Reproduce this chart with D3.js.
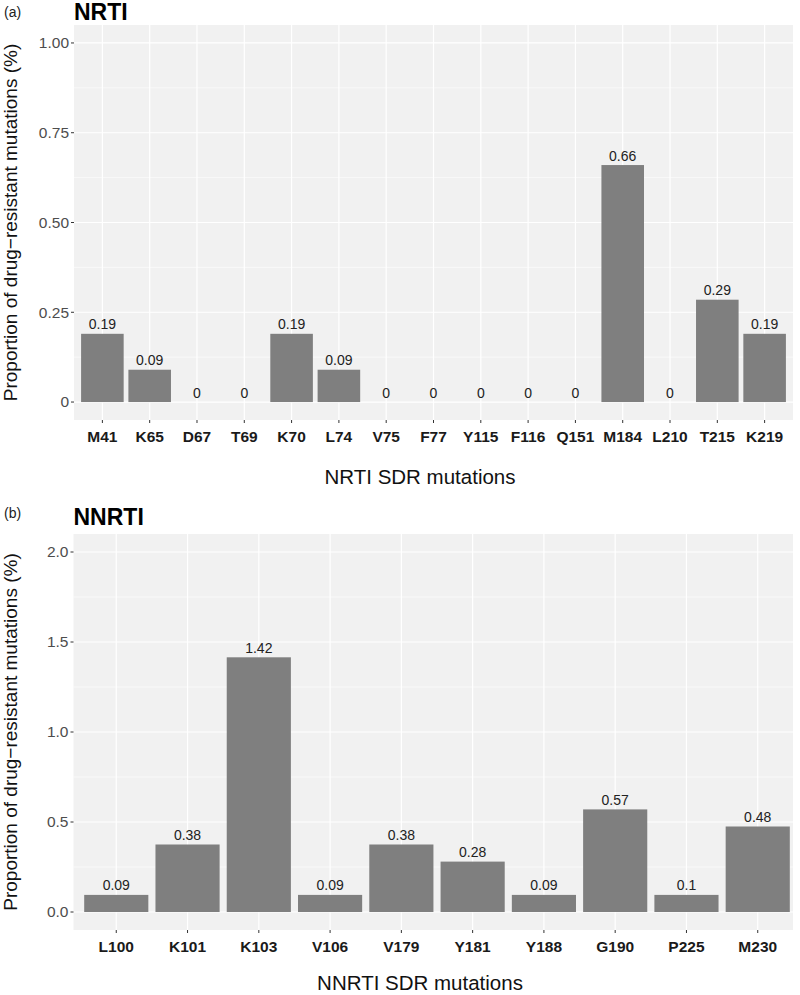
<!DOCTYPE html>
<html><head><meta charset="utf-8">
<script src="https://cdn.jsdelivr.net/npm/d3@7"></script>
<style>body{margin:0;background:#fff;} svg{display:block;font-family:"Liberation Sans",Arial,Helvetica,sans-serif;}</style>
</head><body>
<svg id="chart" width="800" height="995"></svg>
<script>
const nrtiCategories = ["M41","K65","D67","T69","K70","L74","V75","F77","Y115","F116","Q151","M184","L210","T215","K219"];
const nrtiValues = [0.19,0.09,0,0,0.19,0.09,0,0,0,0,0,0.66,0,0.285,0.19];
const nrtiLabels = ["0.19","0.09","0","0","0.19","0.09","0","0","0","0","0","0.66","0","0.29","0.19"];
const nrtiYTicks = [0,0.25,0.5,0.75,1.0];
const nrtiYTickLabels = ["0","0.25","0.50","0.75","1.00"];
const nrtiYMinor = [0.125,0.375,0.625,0.875];

const nnrtiCategories = ["L100","K101","K103","V106","V179","Y181","Y188","G190","P225","M230"];
const nnrtiValues = [0.095,0.375,1.415,0.095,0.375,0.28,0.095,0.57,0.095,0.475];
const nnrtiLabels = ["0.09","0.38","1.42","0.09","0.38","0.28","0.09","0.57","0.1","0.48"];
const nnrtiYTicks = [0,0.5,1.0,1.5,2.0];
const nnrtiYTickLabels = ["0.0","0.5","1.0","1.5","2.0"];
const nnrtiYMinor = [0.25,0.75,1.25,1.75];

const svg = d3.select("#chart");
const yTitle = "Proportion of drug\u2212resistant mutations (%)";

function panel(o){
  const g = svg.append("g");
  const x = d3.scaleBand().domain(o.cats).range([o.left, o.xRight]).paddingInner(0.1).paddingOuter(0.15);
  const y = d3.scaleLinear().domain(o.ydom).range([o.bottom, o.top]);
  const cx = d => x(d) + x.bandwidth()/2;
  g.append("rect").attr("x", o.left).attr("y", o.top).attr("width", o.right - o.left).attr("height", o.bottom - o.top).attr("fill", "#f1f1f1");
  g.selectAll(".ymin").data(o.yMinor).join("line")
    .attr("x1", o.left).attr("x2", o.right).attr("y1", d=>y(d)).attr("y2", d=>y(d))
    .attr("stroke", "#fff").attr("stroke-width", 0.6);
  g.selectAll(".ymaj").data(o.yTicks).join("line")
    .attr("x1", o.left).attr("x2", o.right).attr("y1", d=>y(d)).attr("y2", d=>y(d))
    .attr("stroke", "#fff").attr("stroke-width", 1.2);
  g.selectAll(".xmaj").data(o.cats).join("line")
    .attr("x1", cx).attr("x2", cx).attr("y1", o.top).attr("y2", o.bottom)
    .attr("stroke", "#fff").attr("stroke-width", 1.2);
  g.selectAll(".bar").data(o.cats).join("rect")
    .attr("x", d=>x(d)).attr("width", x.bandwidth())
    .attr("y", (d,i)=>y(o.vals[i])).attr("height", (d,i)=>y(0)-y(o.vals[i]))
    .attr("fill", "#7f7f7f");
  g.selectAll(".vl").data(o.cats).join("text")
    .attr("x", cx).attr("y", (d,i)=>y(o.vals[i]) - 4.5)
    .attr("text-anchor", "middle").attr("font-size", 14).attr("fill", "#222")
    .text((d,i)=>o.labels[i]);
  g.selectAll(".yt").data(o.yTicks).join("line")
    .attr("x1", o.left-3).attr("x2", o.left).attr("y1", d=>y(d)).attr("y2", d=>y(d))
    .attr("stroke", "#333").attr("stroke-width", 1);
  g.selectAll(".ytl").data(o.yTicks).join("text")
    .attr("x", o.left-5).attr("y", d=>y(d)).attr("dy", "0.35em")
    .attr("text-anchor", "end").attr("font-size", 15.5).attr("fill", "#4d4d4d")
    .text((d,i)=>o.yTickLabels[i]);
  g.selectAll(".xt").data(o.cats).join("line")
    .attr("x1", cx).attr("x2", cx).attr("y1", o.bottom).attr("y2", o.bottom+3)
    .attr("stroke", "#333").attr("stroke-width", 1);
  g.selectAll(".xtl").data(o.cats).join("text")
    .attr("x", cx).attr("y", o.bottom + 22)
    .attr("text-anchor", "middle").attr("font-size", 15.5).attr("font-weight", "bold").attr("fill", "#1a1a1a")
    .text(d=>d);
  g.append("text").attr("x", 420).attr("y", o.xTitleY).attr("text-anchor", "middle")
    .attr("font-size", 20.5).attr("fill", "#111").text(o.xTitle);
  g.append("text").attr("transform", `translate(${17},${(o.top+o.bottom)/2}) rotate(-90)`)
    .attr("text-anchor", "middle").attr("font-size", 19).attr("fill", "#111").text(yTitle);
  g.append("text").attr("x", o.left).attr("y", o.titleY).attr("font-size", 23).attr("font-weight", "bold").attr("fill", "#000").text(o.title);
  g.append("text").attr("x", 4).attr("y", o.tagY).attr("font-size", 14).attr("fill", "#222").text(o.tag);
}

panel({cats:nrtiCategories, vals:nrtiValues, labels:nrtiLabels, yTicks:nrtiYTicks, yTickLabels:nrtiYTickLabels, yMinor:nrtiYMinor,
  left:74, right:793, xRight:793, top:25, bottom:420, ydom:[-0.05,1.05],
  xTitle:"NRTI SDR mutations", xTitleY:484, title:"NRTI", titleY:19.5, tag:"(a)", tagY:17});

panel({cats:nnrtiCategories, vals:nnrtiValues, labels:nnrtiLabels, yTicks:nnrtiYTicks, yTickLabels:nnrtiYTickLabels, yMinor:nnrtiYMinor,
  left:73.5, right:793, xRight:800.5, top:534, bottom:930, ydom:[-0.1,2.1],
  xTitle:"NNRTI SDR mutations", xTitleY:990, title:"NNRTI", titleY:525, tag:"(b)", tagY:518});
</script>
</body></html>
